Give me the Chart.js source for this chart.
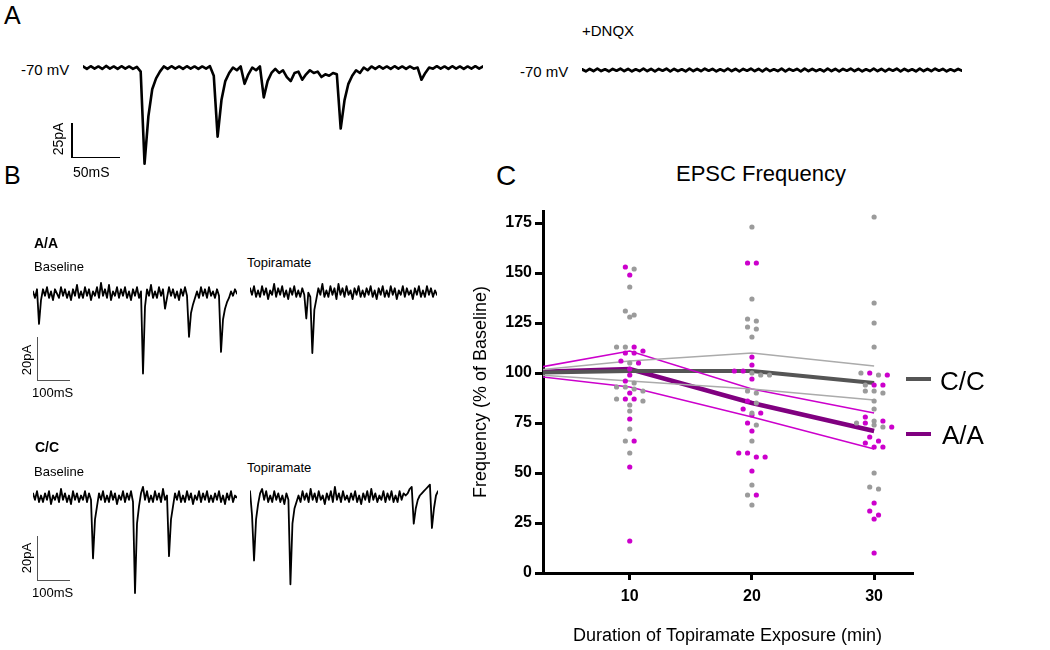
<!DOCTYPE html>
<html>
<head>
<meta charset="utf-8">
<script src="https://cdn.jsdelivr.net/npm/chart.js@4.4.0/dist/chart.umd.min.js"></script>
<style>
  body { margin: 0; background: #fff; }
  #page { position: relative; width: 1050px; height: 650px; overflow: hidden; background: #fff;
          font-family: "Liberation Sans", Arial, sans-serif; color: #000; }
  .t { position: absolute; white-space: nowrap; line-height: 1; transform: translateY(-50%); }
  .rot { position: absolute; white-space: nowrap; line-height: 1; transform: translate(-50%, -50%) rotate(-90deg); }
  canvas { position: absolute; }
  .bar { position: absolute; background: #000; }
  .gbar { position: absolute; background: #555; }
</style>
</head>
<body>
<div id="page">
  <!-- panel letters -->
  <div class="t" style="left:4px;top:15px;font-size:25px;">A</div>
  <div class="t" style="left:4px;top:175px;font-size:25px;">B</div>
  <div class="t" style="left:496px;top:176px;font-size:28px;">C</div>

  <!-- panel A -->
  <div class="t" style="left:21px;top:69px;font-size:15px;">-70 mV</div>
  <div class="t" style="left:520px;top:71px;font-size:15px;">-70 mV</div>
  <div class="t" style="left:582px;top:30px;font-size:15px;">+DNQX</div>
  <canvas id="traceA1" width="400" height="122" style="left:83px;top:54px;"></canvas>
  <canvas id="traceA2" width="380" height="16" style="left:582px;top:62px;"></canvas>
  <div class="bar" style="left:71px;top:123px;width:1.5px;height:35px;"></div>
  <div class="bar" style="left:71px;top:156.5px;width:49px;height:1.5px;"></div>
  <div class="rot" style="left:58px;top:139px;font-size:14px;">25pA</div>
  <div class="t" style="left:73px;top:172px;font-size:14px;">50mS</div>

  <!-- panel B, A/A -->
  <div class="t" style="left:34px;top:243px;font-size:14px;font-weight:bold;">A/A</div>
  <div class="t" style="left:34px;top:266px;font-size:13px;">Baseline</div>
  <div class="t" style="left:247px;top:262px;font-size:13px;">Topiramate</div>
  <canvas id="traceAAbase" width="204" height="108" style="left:33px;top:272px;"></canvas>
  <canvas id="traceAAtopi" width="187" height="108" style="left:250px;top:271px;"></canvas>
  <div class="gbar" style="left:37px;top:337px;width:1.3px;height:44px;"></div>
  <div class="gbar" style="left:37px;top:379.5px;width:33px;height:1.3px;"></div>
  <div class="rot" style="left:26px;top:360px;font-size:13px;">20pA</div>
  <div class="t" style="left:32px;top:392px;font-size:13px;">100mS</div>

  <!-- panel B, C/C -->
  <div class="t" style="left:35px;top:447px;font-size:14px;font-weight:bold;">C/C</div>
  <div class="t" style="left:34px;top:471px;font-size:13px;">Baseline</div>
  <div class="t" style="left:247px;top:467px;font-size:13px;">Topiramate</div>
  <canvas id="traceCCbase" width="204" height="130" style="left:33px;top:476px;"></canvas>
  <canvas id="traceCCtopi" width="188" height="130" style="left:250px;top:476px;"></canvas>
  <div class="gbar" style="left:37px;top:536px;width:1.3px;height:45px;"></div>
  <div class="gbar" style="left:37px;top:579.5px;width:33px;height:1.3px;"></div>
  <div class="rot" style="left:26px;top:558px;font-size:13px;">20pA</div>
  <div class="t" style="left:32px;top:592px;font-size:13px;">100mS</div>

  <!-- panel C -->
  <div class="t" style="left:761px;top:174px;font-size:22px;transform:translate(-50%,-50%);">EPSC Frequency</div>
  <canvas id="freqChart" width="600" height="500" style="left:460px;top:150px;"></canvas>
  <div class="gbar" style="left:906px;top:377px;width:25px;height:4px;background:#555;"></div>
  <div class="t" style="left:940px;top:381px;font-size:26px;">C/C</div>
  <div class="gbar" style="left:906px;top:432px;width:25px;height:4px;background:#800080;"></div>
  <div class="t" style="left:942px;top:435px;font-size:26px;">A/A</div>
</div>

<script>
// ---- traces (current in pA relative to holding level, sampled at fixed steps) ----
const stepA = 4;   // ms per sample, panel A
const stepB = 6;   // ms per sample, panel B

const traceA1 = [0.8, -1, 1, -0.8, 0.8, -1, 1.2, -0.8, 0.8, -1, 1, -0.8, 0.8, -1, 0.5,
  -3, -71, -36, -16, -8, -3,
  0.8, -1, 1, -0.8, 0.8, -1, 1, -0.8, 0.8, -1, 0.8, -0.8, 1,
  -6, -51, -24, -10, -4, 0, -2, 0.8,
  -12, -5, 0, -2, 0.8,
  -22, -10, -4, -1, -4, -2, -7, -10, -4, -3, -9, -5, -2, -4, -3, -7, -5, -6, -4, -5,
  -45, -24, -12, -6, -2, -4, 0, -2,
  0.8, -1, 1, -0.8, 0.8, -1, 1, -0.8, 0.8, -1, 0.8, -0.8, 0,
  -9, -4,
  0, -0.8, 1, -0.8, 0.8, -1, 1, -0.8, 0.8, -1, 0.8, -0.8, 1, -0.8, 0.8];

const traceA2 = [0.5, -1, 0.8, -0.8, 1, -0.8, 0.5, -1, 0.8, -0.5, 1, -0.8, 0.8, -1, 0.5, -0.8, 1, -0.8, 0.8, -1,
  0.8, -0.5, 1, -1, 0.8, -0.8, 0.5, -1, 1, -0.8, 0.8, -0.8, 1, -0.5, 0.8, -1, 0.5, -0.8, 1, -0.8,
  0.8, -1, 0.8, -0.5, 1, -0.8, 0.8, -1, 1, -0.8, 0.5, -0.8, 1, -1, 0.8, -0.5, 0.8, -1, 1, -0.8,
  0.8, -0.8, 0.5, -1, 1, -0.8, 0.8, -1, 0.8, -0.5, 1, -0.8, 0.8, -1, 0.5, -0.8, 1, -0.8, 0.8, -1,
  0.8, -0.5, 1, -1, 0.8, -0.8, 0.5, -1, 1, -0.8, 0.8, -0.8, 1, -0.5, 0.8, -1, 0.5, -0.8, 0.8, -0.5];

const traceAAbase = [1, -2, 2, -14, -3, 2, -1, 3, -2, 1, -3, 2, 0, -2, 3, -1, 2, -2, 1, -3,
  2, -1, 4, -2, 1, -2, 3, -1, 2, -3, 1, -1, 3, -2, 5, -1, 2, -2, 4, -3,
  1, -1, 3, -2, 2, -1, 3, -2, 1, -3, 2, -1, 3, -2, 1, -37, -6, 2, -1, 4,
  -2, 1, -2, 3, -1, 2, -7, -2, 3, -1, 2, -2, 1, -3, 2, -1, 3, -1, -20, -9,
  -5, -2, 1, -2, 3, -1, 2, -2, 3, -1, 1, -2, 2, -1, -27, -12, -7, -4, -2, 1,
  -1, 2, 0];

const traceAAtopi = [2, -1, 3, -2, 1, -2, 3, -1, 2, -3, 1, -1, 4, -2, 2, -1, 3, -2, 1, -3,
  2, -1, 3, -2, 1, -2, 2, -1, -12, 0, -2, -28, -8, -3, 2, -1, 4, -2, 1, -2,
  3, -1, 2, -3, 4, -1, 2, -2, 3, -1, 1, -3, 2, -1, 3, -2, 1, -2, 2, -1,
  3, -2, 1, -3, 2, -1, 3, -2, 1, -2, 3, -1, 2, -3, 1, -1, 3, -2, 2, -1,
  1, -3, 2, -1, 3, -2, 1, -2, 3, -1, 2, -2, 1, -1];

const traceCCbase = [2, -1, 3, -2, 1, -2, 2, -1, 3, -3, 1, -1, 2, -2, 4, -1, 2, -2, 1, -3,
  3, -1, 2, -2, 1, -1, 3, -2, 2, -1, -28, -10, -4, 2, -1, 3, -2, 1, -2, 3,
  -1, 2, -3, 1, -1, 3, -2, 2, -1, 3, -2, -44, -12, -4, 2, 5, -1, 3, -2, 1,
  -2, 3, -1, 2, -2, 4, -1, 1, -27, -10, -4, 2, -1, 3, -2, 1, -2, 3, -1, 2,
  -3, 1, -1, 3, -2, 2, -1, 3, -2, 1, -2, 2, -1, 3, -2, 1, -3, 2, -1, 3,
  -2, 1, 0];

const traceCCtopi = [3, -8, -29, -10, -3, 2, 4, -1, 3, -2, 1, -2, 3, -1, 2, -2, 1, -3, 2, -1,
  -40, -12, -5, -2, 1, -2, 3, -1, 2, -2, 4, -1, 2, -2, 3, -1, 1, -3, 2, -1,
  3, -2, 5, -1, 2, -2, 3, -1, 1, -2, 2, -1, 3, -2, 1, -3, 2, -1, 3, -2,
  4, -1, 2, -2, 1, -1, 3, -2, 2, -1, 3, -2, 1, -2, 3, -1, 2, 1, 2, 4,
  5, -12, -5, -1, 1, 2, 3, 4, 5, 6, -14, -5, 1, 3];

// ---- EPSC frequency (% of baseline) ----
const exposureTicks = [10, 20, 30];
const freqTicks = [0, 25, 50, 75, 100, 125, 150, 175];
const ccDots10 = [152, 143, 131, 128, 129, 113, 113, 105, 95, 93, 93, 92, 91, 87, 86, 84, 81, 72, 66, 60];
const ccDots20 = [173, 137, 126, 127, 123, 122, 118, 99, 100, 99, 90, 91, 85, 80, 74, 66, 44, 39, 34];
const ccDots30 = [178, 135, 125, 113, 100, 99, 94, 91, 91, 90, 86, 82, 75, 74, 76, 73, 50, 42, 43];
const aaDots10 = [153, 149, 113, 110, 110, 111, 106, 105, 102, 99, 96, 90, 87, 87, 77, 66, 53, 16];
const aaDots20 = [155, 155, 108, 104, 101, 101, 97, 86, 82, 80, 79, 75, 71, 60, 58, 60, 58, 51, 39];
const aaDots30 = [99, 100, 94, 94, 78, 75, 76, 73, 68, 65, 66, 63, 63, 35, 31, 29, 27, 10];

const lineTimes = [0, 10, 20, 30];
const ccMean = [100, 101, 101, 95];
const ccUpper = [100, 106, 110, 103.5];
const ccLower = [100, 96, 92, 86.5];
const aaMean = [100, 102, 85, 71];
const aaUpper = [100, 111, 92, 80];
const aaLower = [100, 93, 78, 62];

const FONT = "'Liberation Sans', Arial, sans-serif";

function drawTrace(id, values, step, yMin, yMax, width) {
  const pts = values.map((v, i) => ({ x: i * step, y: v }));
  new Chart(document.getElementById(id), {
    type: 'line',
    data: { datasets: [{ data: pts, borderColor: '#000', borderWidth: width, pointRadius: 0, tension: 0,
                         borderJoinStyle: 'round', borderCapStyle: 'round' }] },
    options: {
      responsive: false, animation: false, events: [],
      layout: { padding: 0 },
      plugins: { legend: { display: false }, tooltip: { enabled: false } },
      scales: {
        x: { type: 'linear', display: false, min: 0, max: pts[pts.length - 1].x },
        y: { display: false, min: yMin, max: yMax }
      }
    }
  });
}

drawTrace('traceA1', traceA1, stepA, -80, 10, 2.6);
drawTrace('traceA2', traceA2, stepA, -6, 6, 2.8);
drawTrace('traceAAbase', traceAAbase, stepB, -40, 10, 1.8);
drawTrace('traceAAtopi', traceAAtopi, stepB, -40, 10, 1.8);
drawTrace('traceCCbase', traceCCbase, stepB, -50, 10, 1.8);
drawTrace('traceCCtopi', traceCCtopi, stepB, -50, 10, 1.8);

// simple beeswarm: points of similar value share a row, spread side by side
function swarm(t, groups) {
  const rowGap = 2.5, spread = 0.72;
  const pts = [];
  groups.forEach((vals, gi) => vals.forEach(v => pts.push({ v, gi })));
  pts.sort((a, b) => b.v - a.v);
  const rows = [];
  pts.forEach(p => {
    const row = rows[rows.length - 1];
    if (row && row[0].v - p.v <= rowGap) row.push(p); else rows.push([p]);
  });
  const out = groups.map(() => []);
  rows.forEach(row => row.forEach((p, k) => {
    out[p.gi].push({ x: t + (k - (row.length - 1) / 2) * spread, y: p.v });
  }));
  return out;
}

const ccPts = [], aaPts = [];
[[ccDots10, aaDots10], [ccDots20, aaDots20], [ccDots30, aaDots30]].forEach((g, i) => {
  const [c, a] = swarm(exposureTicks[i], g);
  ccPts.push(...c); aaPts.push(...a);
});

const toXY = arr => arr.map((v, i) => ({ x: lineTimes[i], y: v }));
const lineSet = (vals, color, w) => ({
  data: toXY(vals), showLine: true, borderColor: color, borderWidth: w,
  pointRadius: 0, tension: 0, clip: 0
});

new Chart(document.getElementById('freqChart'), {
  type: 'scatter',
  data: {
    datasets: [
      { data: ccPts, pointRadius: 2.6, pointBackgroundColor: '#9b9b9b', pointBorderWidth: 0 },
      { data: aaPts, pointRadius: 2.6, pointBackgroundColor: '#cc00cc', pointBorderWidth: 0 },
      lineSet(ccUpper, '#ababab', 1.5),
      lineSet(ccLower, '#ababab', 1.5),
      lineSet(aaUpper, '#cc00cc', 1.5),
      lineSet(aaLower, '#cc00cc', 1.5),
      lineSet(ccMean, '#555555', 4),
      lineSet(aaMean, '#800080', 4.5)
    ]
  },
  options: {
    responsive: false, animation: false, events: [],
    layout: { padding: { top: 61, right: 148, left: 0, bottom: 0 } },
    plugins: { legend: { display: false }, tooltip: { enabled: false } },
    scales: {
      x: {
        type: 'linear', min: 2.9, max: 33.1,
        afterBuildTicks: axis => { axis.ticks = exposureTicks.map(v => ({ value: v })); },
        afterFit: axis => { axis.height = 77; },
        border: { display: true, width: 3, color: '#000' },
        grid: { display: true, drawOnChartArea: false, drawTicks: true, tickLength: 7, color: '#000', lineWidth: 3 },
        ticks: { color: '#000', padding: 7, font: { family: FONT, size: 16, weight: 'bold' } },
        title: { display: true, text: 'Duration of Topiramate Exposure (min)', color: '#000',
                 padding: { top: 0, bottom: 3 }, font: { family: FONT, size: 18 } }
      },
      y: {
        min: 0, max: 181,
        afterBuildTicks: axis => { axis.ticks = freqTicks.map(v => ({ value: v })); },
        afterFit: axis => { axis.width = 83; },
        border: { display: true, width: 3, color: '#000' },
        grid: { display: true, drawOnChartArea: false, drawTicks: true, tickLength: 8, color: '#000', lineWidth: 3 },
        ticks: { color: '#000', padding: 3, font: { family: FONT, size: 16, weight: 'bold' } },
        title: { display: true, text: 'Frequency (% of Baseline)', color: '#000',
                 padding: { top: 10, bottom: 0 }, font: { family: FONT, size: 18 } }
      }
    }
  }
});
</script>
</body>
</html>
